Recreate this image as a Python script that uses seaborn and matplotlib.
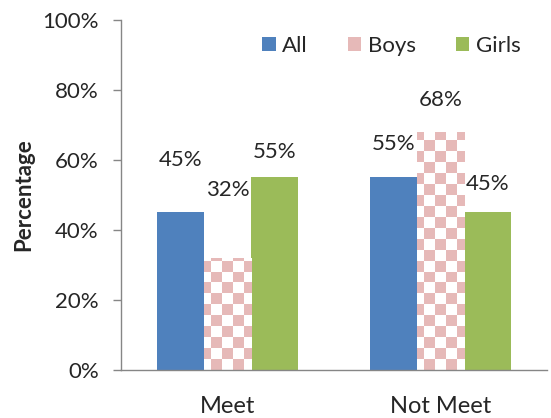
import seaborn as sns
import matplotlib.pyplot as plt
import matplotlib.ticker as mtick
from matplotlib.patches import Patch
from matplotlib.colors import ListedColormap
import numpy as np
import pandas as pd

categories = ['Meet', 'Not Meet']
groups = ['All', 'Boys', 'Girls']
all_vals = [45, 55]
boys_vals = [32, 68]
girls_vals = [55, 45]

colors = {'All': '#4F81BD', 'Boys': '#E6B9B8', 'Girls': '#9BBB59'}
# label offsets above bar tops, in pixels (as placed in the original)
label_offsets = {'All': [52, 33], 'Boys': [68, 32], 'Girls': [25, 28]}

df = pd.DataFrame({
    'category': categories * 3,
    'group': ['All'] * 2 + ['Boys'] * 2 + ['Girls'] * 2,
    'value': all_vals + boys_vals + girls_vals,
})

sns.set_style('white')
plt.rcParams['font.family'] = ['Lato', 'DejaVu Sans']

fig = plt.figure(figsize=(5.51, 4.18), dpi=100)
ax = fig.add_axes([121 / 551, 48 / 418, 426 / 551, 350 / 418])

sns.barplot(data=df, x='category', y='value', hue='group', hue_order=groups,
            order=categories, palette=colors, width=0.665, gap=0,
            saturation=1, legend=False, ax=ax)

ax.set_xlim(-0.5, 1.5)
ax.set_ylim(0, 100)

# checkerboard for the Boys bars
ny, nx = 32, 39
yy, xx = np.mgrid[0:ny, 0:nx]
checker = ((xx + yy) % 2).astype(float)
cmap = ListedColormap(['#E6B9B8', 'white'])

vals = {'All': all_vals, 'Boys': boys_vals, 'Girls': girls_vals}
bars = ax.patches
for gi, g in enumerate(groups):
    for ci in range(len(categories)):
        bar = bars[gi * len(categories) + ci]
        bar.set_edgecolor('none')
        if g == 'Boys':
            bar.set_facecolor('none')
            x0 = bar.get_x()
            im = ax.imshow(checker, cmap=cmap, extent=(x0 - 0.02, x0 + 1.98, 0, 100),
                           aspect='auto', interpolation='nearest', zorder=bar.get_zorder())
            im.set_clip_path(bar)
        cx = bar.get_x() + bar.get_width() / 2
        ax.annotate(f'{vals[g][ci]}%', (cx, bar.get_height()),
                    xytext=(0, label_offsets[g][ci]), textcoords='offset pixels',
                    ha='center', va='center', fontsize=16)

ax.set_xlim(-0.5, 1.5)
ax.set_ylim(0, 100)

ax.yaxis.set_major_locator(mtick.MultipleLocator(20))
ax.yaxis.set_major_formatter(mtick.PercentFormatter(decimals=0))
ax.set_xticks([0, 1])
ax.set_xticklabels(categories)
ax.set_xticks([-0.5, 0.5, 1.5], minor=True)
ax.tick_params(axis='x', which='major', length=0, labelsize=17, pad=19)
ax.tick_params(axis='x', which='minor', length=6, width=1, color='#868686', direction='out')
ax.tick_params(axis='y', length=6, width=1, color='#868686', direction='out', labelsize=16, pad=10, left=True)
ax.set_xlabel('')
ax.set_ylabel('Percentage', fontsize=16, fontweight='bold', labelpad=6)

for s in ['top', 'right']:
    ax.spines[s].set_visible(False)
for s in ['left', 'bottom']:
    ax.spines[s].set_color('#868686')
    ax.spines[s].set_linewidth(1)

handles = [Patch(facecolor=colors[g], edgecolor='none', label=g) for g in groups]
ax.legend(handles=handles, loc='upper right', bbox_to_anchor=(0.985, 1.012), ncol=3, frameon=False,
          fontsize=16, handlelength=0.6, handleheight=0.6, handletextpad=0.3, columnspacing=1.8)

fig.savefig('out.png', dpi=100)
